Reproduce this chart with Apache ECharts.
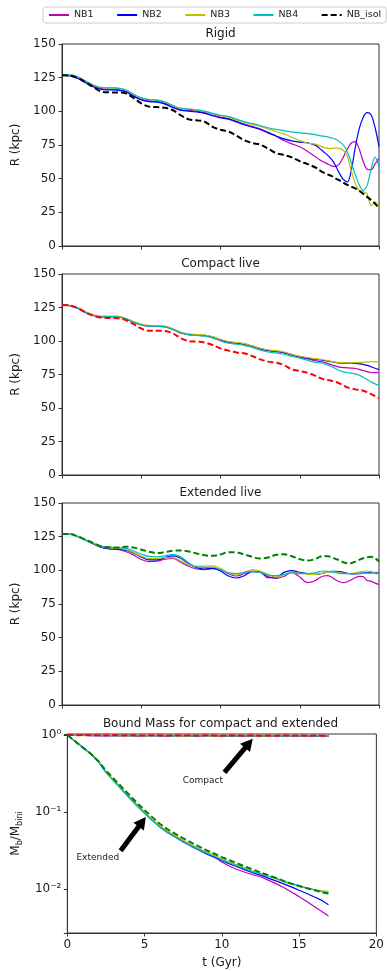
<!DOCTYPE html>
<html>
<head>
<meta charset="utf-8">
<script src="https://cdn.jsdelivr.net/npm/echarts@6/dist/echarts.min.js"></script>
<style>
  html, body { margin: 0; padding: 0; background: #fff; }
  #chart { width: 387px; height: 971px; }
</style>
</head>
<body>
<div id="chart"></div>
<script>
// time grid (Gyr) for the three orbit panels
const TIME = [0, 0.5, 1, 1.5, 2, 2.5, 3, 3.5, 4, 4.5, 5, 5.5, 6, 6.5, 7, 7.5, 8, 8.5, 9, 9.5,
  10, 10.5, 11, 11.5, 12, 12.5, 13, 13.5, 14, 14.5, 15, 15.5, 16,
  16.25, 16.5, 16.75, 17, 17.25, 17.5, 17.75, 18, 18.25, 18.5, 18.75, 19, 19.25, 19.5, 19.75, 20];

// Rigid
const RIGID_NB1 = [126.7, 126.5, 124.7, 121.5, 118.5, 116.7, 116.4, 116.2, 115, 111.7, 109, 107.7, 107.3, 105.9, 103.2, 101.2, 100.7, 100, 99, 97.2,
  95.7, 94.7, 92.7, 90.5, 88.8, 87, 84.5, 81.7, 78.3, 75.8, 73.7, 70.2, 66.2,
  64, 62.5, 61, 59.5, 59, 61, 66, 72, 76.5, 77.5, 72, 63, 57, 56.5, 61, 65];
const RIGID_NB2 = [126.8, 126.3, 124.4, 121.2, 118.1, 116.3, 115.9, 115.7, 114.5, 111.2, 108.5, 107.2, 106.8, 105.4, 102.7, 100.7, 100.2, 99.5, 98.5, 96.7,
  95.2, 94.2, 92.2, 90, 88.3, 86.5, 84, 81.7, 79.5, 78, 77.2, 76.6, 74.7,
  72.5, 70, 67.5, 64.5, 60, 54, 49.5, 47.5, 56, 73, 87, 95.5, 99, 97.5, 88, 74];
const RIGID_NB3 = [127, 127, 125.5, 122.4, 119.4, 117.7, 117.4, 117.2, 116, 112.7, 110, 108.7, 108.3, 106.9, 104.2, 102.2, 101.7, 101, 100, 98.2,
  96.7, 95.7, 93.7, 91.7, 90.3, 88.8, 87, 85, 83.3, 80.8, 78.3, 76.3, 75.7,
  74.5, 73.2, 72.5, 72.5, 72.8, 72.5, 71, 66.5, 56, 46.5, 41.5, 40.5, 38.5, 30, 32.5, 29];
const RIGID_NB4 = [127, 127, 125.5, 122.4, 119.4, 117.7, 117.4, 117.2, 116, 112.7, 110, 108.7, 108.3, 106.9, 104.2, 102.2, 101.7, 101, 100.2, 98.5,
  97.1, 96.2, 94.2, 92.3, 91, 89.5, 87.8, 86.6, 85.7, 84.7, 84, 83.5, 82.7,
  82, 81.6, 81, 80.3, 79.3, 77.5, 75, 70, 62, 53, 45.5, 41.5, 45, 57, 66, 59];
const RIGID_ISOL = [126.8, 126.5, 124.7, 121.5, 117.8, 114.6, 114.1, 114, 113.4, 110, 106, 103.5, 103.2, 102.6, 100.8, 97, 94, 93.3, 92.3, 88.5,
  86.3, 85, 82, 78.5, 76.5, 75.3, 72.3, 69, 67.6, 65.8, 63, 60.8, 58.3,
  56.3, 54.5, 53.2, 52, 50.3, 48.7, 47, 45.4, 44, 42.8, 41, 38.8, 36.5, 34.2, 31.5, 28];

// Compact live
const COMPACT_NB1 = [126.7, 126.2, 124.2, 121.2, 118.9, 118, 118, 118, 116.5, 114, 112, 111, 110.9, 110.5, 108.5, 106, 104.7, 104.3, 103.9, 102.7,
  100.5, 98.9, 98.3, 97.5, 95.9, 94, 92.7, 92.1, 91.2, 89.5, 88, 86.7, 85.3,
  84.8, 84.2, 83.3, 82.3, 81.2, 80.5, 80.2, 80, 79.8, 79.5, 78.8, 78, 77.2, 76.5, 76.4, 76.8];
const COMPACT_NB2 = [127, 126.5, 124.5, 121.5, 119.2, 118.3, 118.3, 118.3, 116.8, 114.3, 112.3, 111.3, 111.2, 110.8, 108.8, 106.3, 105, 104.6, 104.2, 103,
  100.8, 99.2, 98.6, 97.8, 96.2, 94.3, 93, 92.4, 91.5, 89.8, 88.3, 87.2, 86.4,
  86, 85.5, 85, 84.5, 84, 83.6, 83.5, 83.5, 83.4, 83.3, 83, 82.6, 81.8, 80.8, 79.7, 78.6];
const COMPACT_NB3 = [127, 126.6, 124.7, 121.8, 119.5, 118.6, 118.6, 118.6, 117.1, 114.6, 112.6, 111.6, 111.5, 111.1, 109.1, 106.6, 105.3, 104.9, 104.5, 103.3,
  101.1, 99.5, 98.9, 98.1, 96.5, 94.6, 93.3, 92.7, 91.8, 90.1, 88.6, 87.5, 86.8,
  86.4, 86, 85.4, 84.8, 84.3, 84, 83.8, 83.7, 83.7, 83.8, 84, 84.2, 84.4, 84.6, 84.6, 84.3];
const COMPACT_NB4 = [127, 126.5, 124.5, 121.5, 119, 118, 118, 118.1, 116.6, 114.1, 112.1, 111.1, 111, 110.6, 108.6, 106, 104.6, 104.1, 103.6, 102.3,
  100, 98.3, 97.6, 96.8, 95.2, 93.2, 91.8, 91.1, 90.1, 88.5, 87.2, 85.5, 84,
  83.7, 83.2, 82.2, 81, 79.5, 78, 77, 76.5, 76, 75.5, 74.5, 73, 71.3, 69.5, 68, 66.8];
const COMPACT_ISOL = [126.9, 126.5, 124.5, 121.2, 118.7, 117.4, 117.2, 116.9, 115.7, 112.7, 109.3, 107.7, 107.7, 107.5, 105.7, 102, 100, 99.5, 98.8, 97,
  94.5, 92.8, 91.5, 90.8, 88.8, 86.3, 84.6, 83.8, 82, 78.8, 77.6, 76.3, 73.9,
  72.6, 71.4, 70.8, 70.4, 69.5, 68.4, 66.8, 65.4, 64.5, 63.9, 63.4, 62.9, 61.8, 60.4, 58.8, 57.2];

// Extended live
const EXT_NB1 = [127, 126.8, 125, 122.5, 119.5, 117, 116, 115.5, 114, 111.5, 108, 106.5, 106.8, 108.3, 108.8, 106, 103, 101, 100.5, 101.2,
  100.5, 97.5, 95.8, 97.5, 99.5, 98.5, 95.5, 94, 95.5, 98.5, 95, 90.8, 92.5,
  94.5, 95.8, 96, 95, 93, 91.5, 90.8, 91.5, 93, 94.5, 95.5, 95.3, 92.5, 92, 90.5, 89.5];
const EXT_NB2 = [127, 126.8, 125, 122.3, 119.5, 117, 116, 115.8, 115, 113, 110, 107.8, 107.8, 109.5, 110.8, 109, 105, 102, 101, 101.5,
  99.5, 95.8, 94.3, 96, 99, 98.7, 94.5, 94.5, 98.5, 99.8, 98.5, 97.5, 97,
  97.3, 98, 98.8, 99.2, 99.3, 99, 98.5, 97.8, 97.3, 97.3, 97.6, 98, 98.3, 98.5, 98.4, 98];
const EXT_NB3 = [127, 126.8, 125, 122.5, 119.8, 117.5, 116.5, 116.3, 115.5, 113.3, 110.5, 108.8, 108.8, 109.5, 109.5, 107, 104, 103, 103.2, 103.3,
  101.5, 98, 96.5, 98.5, 100.3, 99.5, 97, 95, 96.5, 98.3, 98, 97.2, 97,
  97.3, 98, 98.7, 99, 98.8, 98.3, 97.8, 97.5, 97.8, 98.2, 98.8, 99.2, 99.5, 99, 98, 97];
const EXT_NB4 = [127, 126.8, 125, 122.5, 120, 117.8, 117, 116.8, 116.3, 114.5, 112, 110.3, 110, 110.8, 111.8, 109.8, 105.5, 102.5, 102.2, 102.3,
  100.5, 98.3, 97.5, 98.5, 99.3, 98.5, 96.5, 96, 97, 98.3, 97.5, 97.5, 98.2,
  99, 99.5, 99.3, 98.8, 98.2, 97.8, 97.6, 97.5, 97.5, 97.6, 97.8, 98, 98, 98, 97.8, 97.5];
const EXT_ISOL = [127, 127, 125.2, 122.7, 120.2, 117.7, 117.2, 116.9, 117.5, 117, 115.5, 113.8, 112.8, 113.5, 114.5, 114.8, 114, 112.5, 111.2, 110.8,
  111.8, 113.5, 113.3, 111.8, 110, 108.8, 109.5, 111.5, 112, 110.5, 108.3, 107.3, 108.5,
  110, 110.7, 110.5, 109.8, 108.5, 107.5, 106, 105.3, 105.3, 106.5, 107.8, 109, 109.7, 110, 109, 106.5];

// Bound mass fraction, time grid (Gyr)
const TIME_MASS = [0, 0.5, 1, 1.5, 2, 2.5, 3, 3.5, 4, 4.5, 5, 5.5, 6, 6.5, 7, 7.5, 8, 8.5, 9, 9.5,
  10, 10.5, 11, 11.5, 12, 12.5, 13, 13.5, 14, 14.5, 15, 15.5, 16, 16.5, 16.9];
const MASS_EXT_NB1 = [1.0, 0.83, 0.69, 0.575, 0.457, 0.33, 0.26, 0.2, 0.158, 0.124, 0.1, 0.079, 0.0646, 0.055, 0.0479, 0.0417, 0.0372, 0.0331, 0.0295, 0.0265,
  0.0225, 0.0198, 0.018, 0.0166, 0.0154, 0.0145, 0.0131, 0.0118, 0.0105, 0.0092, 0.008, 0.0069, 0.0059, 0.0051, 0.0045];
const MASS_EXT_NB2 = [1.0, 0.83, 0.69, 0.575, 0.457, 0.33, 0.258, 0.2, 0.157, 0.123, 0.098, 0.078, 0.064, 0.054, 0.047, 0.041, 0.0362, 0.0322, 0.0287, 0.026,
  0.0234, 0.0213, 0.0195, 0.0178, 0.0163, 0.0152, 0.0139, 0.0128, 0.0117, 0.0107, 0.0097, 0.0088, 0.0079, 0.0071, 0.0063];
const MASS_EXT_NB3 = [1.0, 0.83, 0.69, 0.575, 0.457, 0.335, 0.262, 0.204, 0.16, 0.126, 0.1, 0.08, 0.066, 0.0565, 0.0492, 0.043, 0.0383, 0.034, 0.0303, 0.0276,
  0.0247, 0.0225, 0.0206, 0.0188, 0.0171, 0.016, 0.0146, 0.0137, 0.0125, 0.0116, 0.0109, 0.0103, 0.0099, 0.0095, 0.0094];
const MASS_EXT_NB4 = [1.0, 0.83, 0.69, 0.575, 0.455, 0.325, 0.252, 0.196, 0.153, 0.12, 0.096, 0.077, 0.063, 0.054, 0.047, 0.0412, 0.0367, 0.0328, 0.0293, 0.0268,
  0.024, 0.0219, 0.0201, 0.0184, 0.0169, 0.0158, 0.0147, 0.0138, 0.0127, 0.0118, 0.0111, 0.0104, 0.0098, 0.0093, 0.009];
const MASS_EXT_ISOL = [1.0, 0.83, 0.69, 0.575, 0.46, 0.345, 0.272, 0.213, 0.168, 0.132, 0.106, 0.086, 0.07, 0.0595, 0.052, 0.0455, 0.0405, 0.036, 0.032, 0.029,
  0.026, 0.0237, 0.0216, 0.0197, 0.018, 0.0165, 0.0152, 0.014, 0.0128, 0.0118, 0.011, 0.0103, 0.0097, 0.0091, 0.0088];
const MASS_CMP_NB1 = [1, 0.99, 0.985, 0.99, 0.98, 0.985, 0.975, 0.985, 0.98, 0.975, 0.985, 0.98, 0.97, 0.98, 0.975, 0.985, 0.97, 0.98, 0.975, 0.97,
  0.98, 0.975, 0.97, 0.98, 0.965, 0.975, 0.97, 0.98, 0.965, 0.975, 0.97, 0.965, 0.975, 0.97, 0.97];
const MASS_CMP_NB2 = [1, 0.985, 0.99, 0.98, 0.99, 0.975, 0.985, 0.98, 0.99, 0.97, 0.98, 0.985, 0.975, 0.97, 0.985, 0.975, 0.98, 0.97, 0.985, 0.975,
  0.97, 0.98, 0.975, 0.965, 0.98, 0.97, 0.975, 0.965, 0.975, 0.97, 0.965, 0.975, 0.965, 0.97, 0.965];
const MASS_CMP_NB3 = [1, 0.99, 0.98, 0.985, 0.99, 0.98, 0.99, 0.975, 0.985, 0.98, 0.975, 0.99, 0.98, 0.985, 0.97, 0.98, 0.975, 0.985, 0.97, 0.98,
  0.975, 0.985, 0.97, 0.98, 0.975, 0.97, 0.98, 0.975, 0.97, 0.98, 0.975, 0.97, 0.98, 0.97, 0.975];
const MASS_CMP_NB4 = [1, 0.995, 0.985, 0.99, 0.985, 0.99, 0.98, 0.99, 0.975, 0.985, 0.98, 0.975, 0.99, 0.98, 0.975, 0.985, 0.975, 0.98, 0.975, 0.985,
  0.975, 0.98, 0.975, 0.985, 0.97, 0.98, 0.975, 0.97, 0.98, 0.975, 0.97, 0.98, 0.975, 0.97, 0.975];
const MASS_CMP_ISOL = [1, 0.995, 1, 0.99, 0.995, 0.99, 1, 0.985, 0.995, 0.99, 0.985, 0.995, 0.99, 0.98, 0.995, 0.985, 0.99, 0.98, 0.995, 0.985,
  0.98, 0.99, 0.985, 0.98, 0.99, 0.98, 0.985, 0.975, 0.99, 0.98, 0.985, 0.975, 0.985, 0.98, 0.98];

// annotation arrows [tail, head] in data coords, and their labels
const ARROW_COMPACT = [[10.17, 0.327], [11.75, 0.78]];
const ARROW_EXTENDED = [[3.45, 0.0315], [4.85, 0.075]];
const LABEL_COMPACT = [8.77, 0.255];
const LABEL_EXTENDED = [1.97, 0.026];

const LEGEND_NAMES = ["NB1", "NB2", "NB3", "NB4", "NB_isol"];
const PANEL_TITLES = ["Rigid", "Compact live", "Extended live", "Bound Mass for compact and extended"];

const FONT = "DejaVu Sans, sans-serif";
const TEXT = "#1a1a1a";
const FRAME = "#333";
const C = { nb1: "#bf00bf", nb2: "#0000ff", nb3: "#bfbf00", nb4: "#00bfbf", k: "#000000", r: "#ff0000", g: "#008000" };

const GRIDS = [
  { top: 44, height: 202 },
  { top: 274, height: 201 },
  { top: 503, height: 202 },
  { top: 734, height: 199 },
];

const pairs = (xs, ys) => ys.map((y, i) => [xs[i], y]);

function line(name, xs, ys, idx, color, opts = {}) {
  const dashed = !!opts.dashed;
  return {
    type: "line", name, xAxisIndex: idx, yAxisIndex: idx,
    data: pairs(xs, ys),
    symbol: "none", showSymbol: false,
    smooth: opts.smooth === undefined ? 0.35 : opts.smooth,
    lineStyle: { color, width: dashed ? 2 : 1.2, type: dashed ? [6, 3] : "solid" },
    itemStyle: { color },
    z: dashed ? 4 : 3,
  };
}

const SUP = { "0": "\u2070", "1": "\u00b9", "2": "\u00b2", "3": "\u00b3", "-": "\u207b" };
const supText = (n) => String(n).split("").map((ch) => SUP[ch] || ch).join("");

const axisFont = { fontSize: 12, color: TEXT, fontFamily: FONT };

const xAxes = GRIDS.map((g, i) => ({
  type: "value", gridIndex: i, min: 0, max: 20, interval: 5,
  axisLine: { show: true, lineStyle: { color: FRAME } },
  axisTick: { show: true, length: 3.5, lineStyle: { color: FRAME } },
  axisLabel: { show: i === 3, ...axisFont, margin: 6 },
  splitLine: { show: false },
  name: i === 3 ? "t (Gyr)" : "",
  nameLocation: "middle", nameGap: 24,
  nameTextStyle: axisFont,
}));

const yAxes = GRIDS.map((g, i) => {
  if (i < 3) {
    return {
      type: "value", gridIndex: i, min: 0, max: 150, interval: 25,
      name: "R (kpc)", nameLocation: "middle", nameGap: 31, nameRotate: 90,
      nameTextStyle: axisFont,
      axisLine: { show: true, lineStyle: { color: FRAME } },
      axisTick: { show: true, length: 3.5, lineStyle: { color: FRAME } },
      axisLabel: { ...axisFont, margin: 6 },
      splitLine: { show: false },
    };
  }
  return {
    type: "log", logBase: 10, gridIndex: i, min: 0.0027, max: 1.03,
    name: "M{s|b}/M{s|bini}", nameLocation: "middle", nameGap: 40, nameRotate: 90,
    nameTextStyle: { ...axisFont, lineHeight: 16, rich: { s: { fontSize: 8, lineHeight: 8, verticalAlign: "bottom", fontFamily: FONT, color: TEXT } } },
    axisLine: { show: true, lineStyle: { color: FRAME } },
    axisTick: { show: true, length: 3.5, lineStyle: { color: FRAME } },
    axisLabel: {
      ...axisFont, margin: 6,
      formatter: (v) => {
        const e = Math.log10(v);
        return Math.abs(e - Math.round(e)) < 1e-6 ? "10" + supText(Math.round(e)) : "";
      },
    },
    splitLine: { show: false },
  };
});

const series = [
  line("NB1", TIME, RIGID_NB1, 0, C.nb1),
  line("NB2", TIME, RIGID_NB2, 0, C.nb2),
  line("NB3", TIME, RIGID_NB3, 0, C.nb3),
  line("NB4", TIME, RIGID_NB4, 0, C.nb4),
  line("NB_isol", TIME, RIGID_ISOL, 0, C.k, { dashed: true }),

  line("NB1", TIME, COMPACT_NB1, 1, C.nb1),
  line("NB2", TIME, COMPACT_NB2, 1, C.nb2),
  line("NB3", TIME, COMPACT_NB3, 1, C.nb3),
  line("NB4", TIME, COMPACT_NB4, 1, C.nb4),
  line("compact isol", TIME, COMPACT_ISOL, 1, C.r, { dashed: true }),

  line("NB1", TIME, EXT_NB1, 2, C.nb1),
  line("NB2", TIME, EXT_NB2, 2, C.nb2),
  line("NB3", TIME, EXT_NB3, 2, C.nb3),
  line("NB4", TIME, EXT_NB4, 2, C.nb4),
  line("extended isol", TIME, EXT_ISOL, 2, C.g, { dashed: true }),

  line("NB1", TIME_MASS, MASS_CMP_NB1, 3, C.nb1, { smooth: false }),
  line("NB2", TIME_MASS, MASS_CMP_NB2, 3, C.nb2, { smooth: false }),
  line("NB3", TIME_MASS, MASS_CMP_NB3, 3, C.nb3, { smooth: false }),
  line("NB4", TIME_MASS, MASS_CMP_NB4, 3, C.nb4, { smooth: false }),
  line("compact isol", TIME_MASS, MASS_CMP_ISOL, 3, C.r, { dashed: true, smooth: false }),
  line("NB1", TIME_MASS, MASS_EXT_NB1, 3, C.nb1, { smooth: false }),
  line("NB2", TIME_MASS, MASS_EXT_NB2, 3, C.nb2, { smooth: false }),
  line("NB3", TIME_MASS, MASS_EXT_NB3, 3, C.nb3, { smooth: false }),
  line("NB4", TIME_MASS, MASS_EXT_NB4, 3, C.nb4, { smooth: false }),
  line("extended isol", TIME_MASS, MASS_EXT_ISOL, 3, C.g, { dashed: true, smooth: false }),

  // arrows + labels
  {
    type: "line", name: "annotations", xAxisIndex: 3, yAxisIndex: 3, data: [],
    markLine: {
      silent: true, animation: false,
      symbol: ["none", "triangle"], symbolSize: [13, 12],
      lineStyle: { color: "#000", width: 5, type: "solid" },
      label: { show: false },
      data: [
        [{ coord: ARROW_COMPACT[0] }, { coord: ARROW_COMPACT[1] }],
        [{ coord: ARROW_EXTENDED[0] }, { coord: ARROW_EXTENDED[1] }],
      ],
    },
    markPoint: {
      silent: true, animation: false,
      symbol: "circle", symbolSize: 0,
      itemStyle: { color: "transparent" },
      label: { show: true, position: "inside", fontSize: 9, color: TEXT, fontFamily: FONT, formatter: (p) => p.name },
      data: [
        { name: "Compact", coord: LABEL_COMPACT },
        { name: "Extended", coord: LABEL_EXTENDED },
      ],
    },
  },
];

const option = {
  animation: false,
  backgroundColor: "#fff",
  textStyle: { fontFamily: FONT },
  title: PANEL_TITLES.map((t, i) => ({
    text: t, left: 220.5, top: GRIDS[i].top - 16, textAlign: "center",
    textStyle: { fontSize: 12, fontWeight: "normal", color: TEXT, fontFamily: FONT },
    padding: 0,
  })),
  legend: {
    data: LEGEND_NAMES, top: 7, left: 43, width: 334,
    itemWidth: 20, itemHeight: 10, itemGap: 22.5,
    padding: [3, 5], borderColor: "#ccc", borderWidth: 1, borderRadius: 3,
    itemStyle: { opacity: 0 },
    textStyle: { fontSize: 9.5, color: TEXT, fontFamily: FONT },
  },
  grid: GRIDS.map((g) => ({
    left: 62, width: 317, top: g.top, height: g.height,
    show: true, borderColor: FRAME, borderWidth: 1, backgroundColor: "transparent",
  })),
  xAxis: xAxes,
  yAxis: yAxes,
  series,
};

const chart = echarts.init(document.getElementById("chart"), null, { renderer: "canvas" });
chart.setOption(option);
</script>
</body>
</html>
